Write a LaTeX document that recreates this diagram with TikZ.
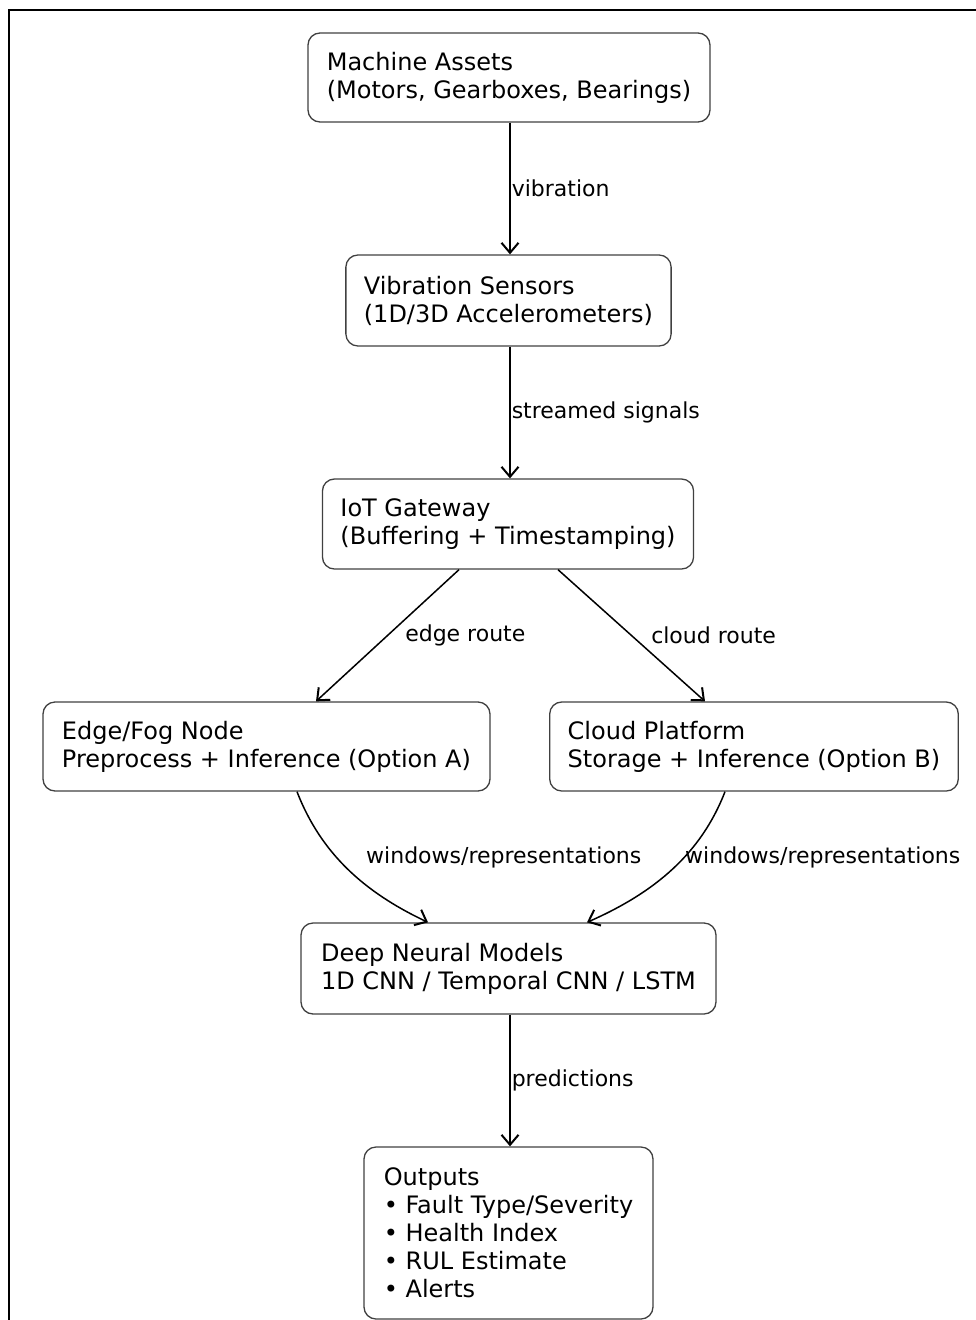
\documentclass[tikz,border=0pt]{standalone}
\usepackage{fontspec}
\setmainfont{DejaVu Sans}
\usetikzlibrary{arrows.meta,calc}
\begin{document}
\begin{tikzpicture}[x=1pt,y=-1pt,
  stage/.style={draw=black!75, line width=1.3pt, rounded corners=12pt, align=left,
    font=\fontsize{24}{28}\selectfont, inner xsep=18pt, inner ysep=0pt, text=black},
  flow/.style={draw=black, line width=1.5pt,
    -{Straight Barb[length=10pt,width=17pt,line width=2pt]}},
  tag/.style={font=\fontsize{22}{26}\selectfont, inner sep=0pt, anchor=west, text=black}]
\useasboundingbox (0,0) rectangle (976,1320);
% outer frame
\draw[line width=2pt] (976,10) -- (8.5,10) -- (8.5,1320);

% stages
\node[stage, minimum width=402pt, minimum height=89pt] (assets) at (509,77.5)
  {Machine Assets\\(Motors, Gearboxes, Bearings)};
\node[stage, minimum width=325pt, minimum height=91pt] (sensors) at (508.5,300.5)
  {Vibration Sensors\\(1D/3D Accelerometers)};
\node[stage, minimum width=370pt, minimum height=90pt] (gateway) at (508,524)
  {IoT Gateway\\(Buffering + Timestamping)};
\node[stage, minimum width=447pt, minimum height=89pt] (edgenode) at (266.5,746.5)
  {Edge/Fog Node\\Preprocess + Inference (Option A)};
\node[stage, minimum width=408pt, minimum height=89pt] (cloud) at (754,746.5)
  {Cloud Platform\\Storage + Inference (Option B)};
\node[stage, minimum width=415pt, minimum height=91pt] (models) at (508.5,968.5)
  {Deep Neural Models\\1D CNN / Temporal CNN / LSTM};
\node[stage, minimum width=289pt, minimum height=172pt, inner xsep=16pt] (outputs) at (508.5,1233)
  {Outputs\\• Fault Type/Severity\\• Health Index\\• RUL Estimate\\• Alerts};

% connectors
\draw[flow] ([xshift=1pt]assets.south) -- node[tag, xshift=1pt] (lvib) {vibration}
  ([xshift=1pt]assets.south |- sensors.north);
\draw[flow] ([xshift=1.5pt]sensors.south) -- node[tag, xshift=1pt] (lstream) {streamed signals}
  ([xshift=1.5pt]sensors.south |- gateway.north);
\draw[flow] ([xshift=-49pt]gateway.south) -- node[tag, xshift=17pt] (ledge) {edge route}
  ([xshift=49.5pt]edgenode.north);
\draw[flow] ([xshift=50pt]gateway.south) -- node[tag, xshift=19pt] (lcloud) {cloud route}
  ([xshift=-49pt]cloud.north);
\draw[flow] ([xshift=30.5pt]edgenode.south) coordinate (e0)
  .. controls ($(e0)+(24,62)$) and ($(models.north)+(-144,-30)$) ..
  ([xshift=-80.5pt]models.north);
\draw[flow] ([xshift=-29pt]cloud.south) coordinate (c0)
  .. controls ($(c0)+(-24,62)$) and ($(models.north)+(146.5,-30)$) ..
  ([xshift=78.5pt]models.north);
\node[tag] (lwinA) at (366,857) {windows/representations};
\node[tag] (lwinB) at (685,857) {windows/representations};
\draw[flow] ([xshift=1.5pt]models.south) -- node[tag, xshift=1pt] (lpred) {predictions}
  ([xshift=1.5pt]models.south |- outputs.north);
\end{tikzpicture}
\end{document}
